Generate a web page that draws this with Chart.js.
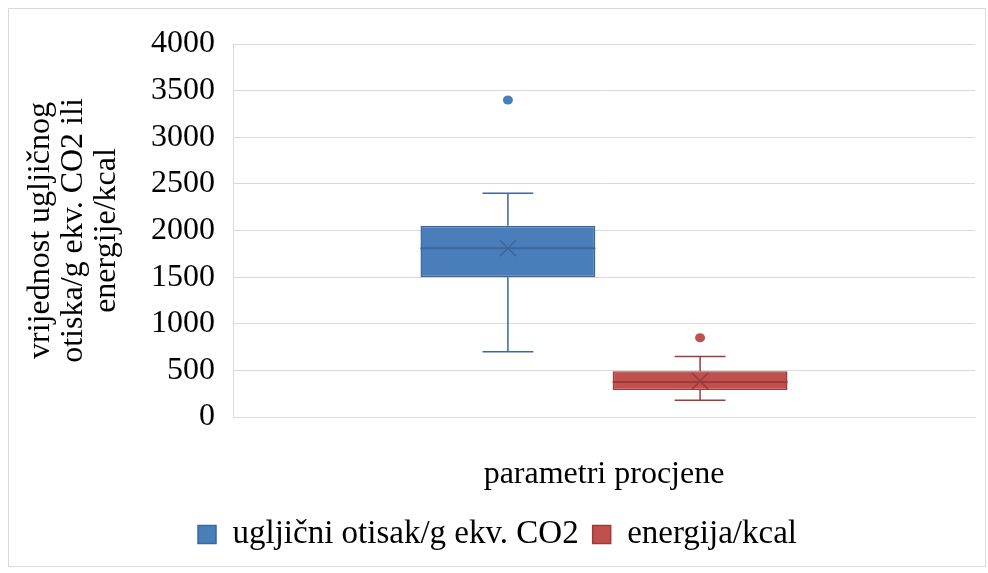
<!DOCTYPE html>
<html>
<head>
<meta charset="utf-8">
<script src="https://cdn.jsdelivr.net/npm/chart.js@4.4.1/dist/chart.umd.min.js"></script>
<style>
  body { margin: 0; background: #fff; }
  #frame { position: absolute; left: 8px; top: 8px; width: 976px; height: 557px; border: 1px solid #d9d9d9; }
  #boxChart { position: absolute; left: 0; top: 0; }
</style>
</head>
<body>
<div id="frame"></div>
<canvas id="boxChart" width="988" height="573"></canvas>
<script>
// data
const categories = ['parametri procjene'];
const seriesNames = ['ugljični otisak/g ekv. CO2', 'energija/kcal'];
// [min whisker, Q1, median, Q3, max whisker]
const co2Box = [700, 1500, 1810, 2050, 2400];
const co2Mean = 1810;
const co2Outliers = [3400];
const energyBox = [180, 290, 375, 490, 650];
const energyMean = 385;
const energyOutliers = [850];
const yTicks = [0, 500, 1000, 1500, 2000, 2500, 3000, 3500, 4000];

const boxes = [co2Box, energyBox];
const means = [co2Mean, energyMean];
const outliers = [co2Outliers, energyOutliers];
const fills = ['#4a7ebb', '#c0504d'];
const edges = ['#3a679c', '#9e3b39'];

const serif = "'Liberation Serif', 'Times New Roman', serif";

// whiskers, median, mean cross and outliers on top of the floating bars
const boxExtras = {
    id: 'boxExtras',
    afterDatasetsDraw(chart) {
        const ctx = chart.ctx;
        const y = chart.scales.y;
        chart.data.datasets.forEach((ds, i) => {
            const meta = chart.getDatasetMeta(i);
            const b = boxes[i];
            meta.data.forEach(bar => {
                const x = bar.x;
                const w = bar.width;
                const cap = w * 0.29;
                ctx.save();
                ctx.strokeStyle = edges[i];
                ctx.lineWidth = 1.5;
                ctx.beginPath();
                // upper whisker
                ctx.moveTo(x, y.getPixelForValue(b[3]));
                ctx.lineTo(x, y.getPixelForValue(b[4]));
                ctx.moveTo(x - cap / 2, y.getPixelForValue(b[4]));
                ctx.lineTo(x + cap / 2, y.getPixelForValue(b[4]));
                // lower whisker
                ctx.moveTo(x, y.getPixelForValue(b[1]));
                ctx.lineTo(x, y.getPixelForValue(b[0]));
                ctx.moveTo(x - cap / 2, y.getPixelForValue(b[0]));
                ctx.lineTo(x + cap / 2, y.getPixelForValue(b[0]));
                ctx.stroke();
                // median
                ctx.lineWidth = 2;
                ctx.beginPath();
                ctx.moveTo(x - w / 2, y.getPixelForValue(b[2]));
                ctx.lineTo(x + w / 2, y.getPixelForValue(b[2]));
                ctx.stroke();
                // mean marker
                const my = y.getPixelForValue(means[i]);
                const s = 8;
                ctx.lineWidth = 1.5;
                ctx.beginPath();
                ctx.moveTo(x - s, my - s);
                ctx.lineTo(x + s, my + s);
                ctx.moveTo(x + s, my - s);
                ctx.lineTo(x - s, my + s);
                ctx.stroke();
                // outliers
                ctx.fillStyle = fills[i];
                outliers[i].forEach(v => {
                    ctx.beginPath();
                    ctx.ellipse(x, y.getPixelForValue(v), 5, 4.5, 0, 0, Math.PI * 2);
                    ctx.fill();
                });
                ctx.restore();
            });
        });
    }
};

const ctx = document.getElementById('boxChart').getContext('2d');
const boxChart = new Chart(ctx, {
    type: 'bar',
    data: {
        labels: categories,
        datasets: boxes.map((b, i) => ({
            label: seriesNames[i],
            data: [[b[1], b[3]]],
            backgroundColor: fills[i],
            borderColor: edges[i],
            borderWidth: 1.5,
            borderSkipped: false,
            categoryPercentage: 0.518,
            barPercentage: 0.91
        }))
    },
    options: {
        responsive: false,
        animation: false,
        layout: {
            padding: { left: 20, right: 13, top: 44, bottom: 12 }
        },
        plugins: {
            legend: {
                position: 'bottom',
                labels: {
                    font: { family: serif, size: 33 },
                    color: '#000',
                    boxWidth: 18,
                    boxHeight: 18,
                    padding: 14
                }
            },
            tooltip: { enabled: false }
        },
        scales: {
            x: {
                grid: { display: false, drawTicks: false },
                border: { color: '#d9d9d9' },
                ticks: {
                    font: { family: serif, size: 32 },
                    color: '#000',
                    padding: 38
                },
                afterFit(scale) { scale.height = 87; }
            },
            y: {
                min: 0,
                max: 4000,
                afterBuildTicks(scale) {
                    scale.ticks = yTicks.map(v => ({ value: v }));
                },
                grid: { color: '#d9d9d9', drawTicks: false },
                border: { color: '#d9d9d9' },
                ticks: {
                    font: { family: serif, size: 32 },
                    color: '#000',
                    padding: 18,
                    callback: v => String(v)
                },
                title: {
                    display: true,
                    text: ['vrijednost ugljičnog', 'otiska/g ekv. CO2 ili', 'energije/kcal'],
                    font: { family: serif, size: 32, lineHeight: 1.03 },
                    color: '#000'
                },
                afterFit(scale) { scale.width = 213; }
            }
        }
    },
    plugins: [boxExtras]
});
</script>
</body>
</html>
